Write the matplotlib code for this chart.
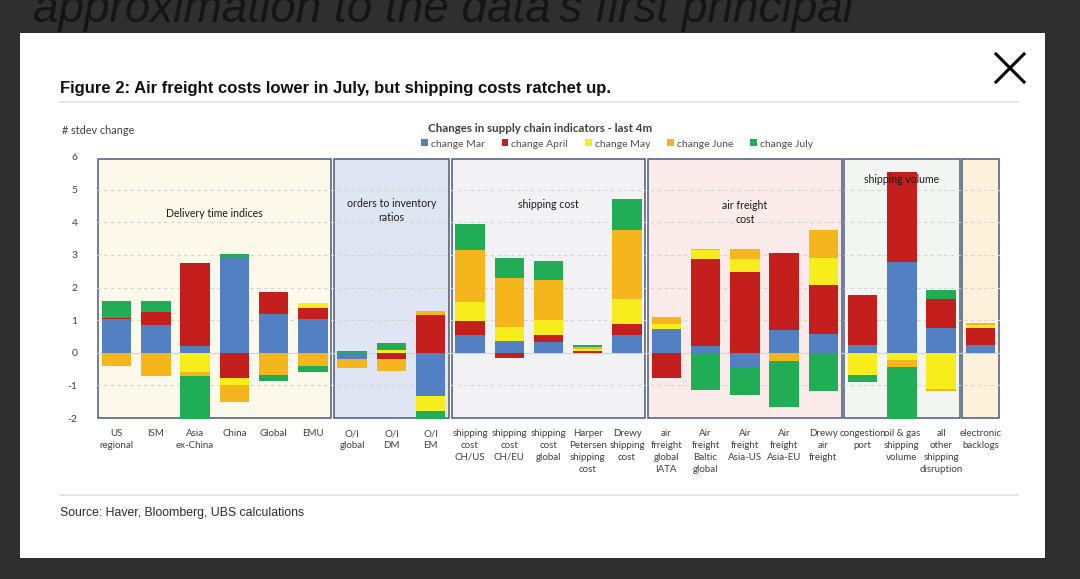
import numpy as np
import matplotlib
matplotlib.use("Agg")
import matplotlib.pyplot as plt
import matplotlib.patches as mpatches
from matplotlib.lines import Line2D

# ── data (stdev change) ─────────────────────────────────────────────────
categories = ["US\nregional", "ISM", "Asia\nex-China", "China", "Global", "EMU",
              "O/I\nglobal", "O/I\nDM", "O/I\nEM",
              "shipping\ncost\nCH/US", "shipping\ncost\nCH/EU", "shipping\ncost\nglobal",
              "Harper\nPetersen\nshipping\ncost", "Drewy\nshipping\ncost",
              "air\nfrreight\nglobal\nIATA", "Air\nfreight\nBaltic\nglobal",
              "Air\nfreight\nAsia-US", "Air\nfreight\nAsia-EU", "Drewy\nair\nfreight",
              "congestion\nport", "oil & gas\nshipping\nvolume",
              "all\nother\nshipping\ndisruption", "electronic\nbacklogs"]

chg_mar = [1.04, 0.86, 0.22, 2.90, 1.19, 1.04, -0.18, 0.00, -1.34, 0.54, 0.36, 0.34,
           0.00, 0.55, 0.74, 0.22, -0.46, 0.71, 0.59, 0.25, 2.77, 0.75, 0.25]
chg_apr = [0.04, 0.38, 2.52, -0.78, 0.66, 0.34, 0.00, -0.20, 1.17, 0.43, -0.16, 0.19,
           0.04, 0.33, -0.78, 2.65, 2.47, 2.36, 1.50, 1.53, 2.78, 0.90, 0.51]
chg_may = [0.00, 0.00, -0.58, -0.20, 0.00, 0.15, 0.00, 0.08, -0.46, 0.59, 0.43, 0.46,
           0.07, 0.77, 0.14, 0.28, 0.41, 0.00, 0.81, -0.69, -0.23, -1.10, 0.08]
chg_jun = [-0.41, -0.72, -0.13, -0.52, -0.69, -0.41, -0.30, -0.37, 0.12, 1.60, 1.51, 1.25,
           0.07, 2.10, 0.23, 0.04, 0.31, -0.25, 0.85, 0.00, -0.20, -0.08, 0.07]
chg_jul = [0.50, 0.36, -1.31, 0.13, -0.19, -0.19, 0.05, 0.22, -0.23, 0.78, 0.59, 0.58,
           0.05, 0.95, 0.00, -1.15, -0.83, -1.40, -1.18, -0.22, -1.59, 0.28, 0.00]

series_names = ["change Mar", "change April", "change May", "change June", "change July"]

# groups: (label, first index, last index)
groups = [("Delivery time indices", 0, 5),
          ("orders to inventory\nratios", 6, 8),
          ("shipping cost", 9, 13),
          ("air freight\ncost", 14, 18),
          ("shipping volume", 19, 21),
          ("", 22, 22)]

# ── styling ─────────────────────────────────────────────────────────────
COLORS = ['#5280c2', '#c41e1d', '#f7ec1c', '#f5b51d', '#21ad56']
GROUP_FC = ['#fcf8ea', '#dfe5f3', '#f2f2f5', '#fbeaea', '#f2f5f1', '#fdf1dc']
GROUP_LBL_Y = [4.28, 4.35, 4.55, 4.3, 5.3, 0]
BORDER = '#4a5a7a'
TXT = '#404040'
CHART_FONT = ['Lato', 'DejaVu Sans']
PAGE_FONT = ['Liberation Sans', 'DejaVu Sans']

W, H = 1080, 579
fig = plt.figure(figsize=(W / 100, H / 100), dpi=100)
fig.patch.set_facecolor('#2f2f2f')


def fx(px):
    return px / W


def fy(py):
    return 1 - py / H


# page behind the modal (its heading is cut by the top edge, as on screen)
fig.text(fx(33), fy(22), "approximation to the data's first principal",
         fontsize=33, style='italic', color='#151515',
         family=['Liberation Sans', 'DejaVu Sans'], va='baseline')

# white card
fig.patches.append(mpatches.Rectangle((fx(20), fy(558)), fx(1045) - fx(20),
                                      fy(33) - fy(558), transform=fig.transFigure,
                                      facecolor='white', edgecolor='none', zorder=-1))
for yy in (102, 495):
    fig.add_artist(Line2D([fx(60), fx(1018)], [fy(yy), fy(yy)], color='#e3e3e3',
                          lw=1.3, transform=fig.transFigure))
# close icon
fig.add_artist(Line2D([fx(996), fx(1024)], [fy(54), fy(82)], color='black', lw=2.2,
                      transform=fig.transFigure))
fig.add_artist(Line2D([fx(996), fx(1024)], [fy(82), fy(54)], color='black', lw=2.2,
                      transform=fig.transFigure))

fig.text(fx(60), fy(93), "Figure 2: Air freight costs lower in July, but shipping costs ratchet up.",
         fontsize=12, fontweight='bold', color='#111111', family=PAGE_FONT, va='baseline')
fig.text(fx(60), fy(516), "Source: Haver, Bloomberg, UBS calculations",
         fontsize=8.8, color='#2a2a2a', family=PAGE_FONT, va='baseline')

# ── chart ───────────────────────────────────────────────────────────────
ax = fig.add_axes([fx(97), fy(418), fx(1000) - fx(97), fy(157) - fy(418)])
ax.set_zorder(2)
ax.set_facecolor('none')
n = len(categories)
x = np.arange(n)
ax.set_xlim(-0.5, n - 0.5)
ax.set_ylim(-2, 6)

# group panels
for (lbl, i0, i1), fc, ly in zip(groups, GROUP_FC, GROUP_LBL_Y):
    pad = 0.03
    ax.add_patch(mpatches.Rectangle((i0 - 0.5 + pad, -2), i1 - i0 + 1 - 2 * pad, 7.95,
                                    facecolor=fc, edgecolor=BORDER, lw=1.1, zorder=0.5,
                                    clip_on=False))
    if lbl:
        ax.text((i0 + i1) / 2, ly, lbl, ha='center', va='center', fontsize=7.6,
                color='#1a1a1a', family=CHART_FONT, zorder=5, linespacing=1.3)

# gridlines
for v in range(-1, 6):
    ax.axhline(v, color='#d4d4d4', lw=0.8, ls=(0, (3, 3)) if v != 0 else '-', zorder=1)

# stacked bars (positives stack up, negatives stack down, in series order)
pos_base = np.zeros(n)
neg_base = np.zeros(n)
handles = []
for name, vals, col in zip(series_names, [chg_mar, chg_apr, chg_may, chg_jun, chg_jul], COLORS):
    v = np.array(vals)
    bottom = np.where(v >= 0, pos_base, neg_base)
    ax.bar(x, v, 0.75, bottom=bottom, color=col, edgecolor='none', zorder=3, clip_on=False)
    pos_base += np.clip(v, 0, None)
    neg_base += np.clip(v, None, 0)
    handles.append(mpatches.Patch(facecolor=col, label=name))

ax.set_xticks(x)
ax.set_xticklabels(categories, fontsize=7.0, color=TXT, family=CHART_FONT, linespacing=1.4,
                   va='top')
ax.set_yticks(range(-2, 7))
ax.set_yticklabels([str(v) for v in range(-2, 7)], fontsize=7.5, color=TXT, family=CHART_FONT)
ax.tick_params(length=0)
ax.tick_params(axis='x', pad=8)
ax.tick_params(axis='y', pad=14)
for s in ax.spines.values():
    s.set_visible(False)

fig.text(fx(62), fy(134), "# stdev change", fontsize=7.8, color=TXT, family=CHART_FONT,
         va='baseline')
fig.text(fx(540), fy(132), "Changes in supply chain indicators - last 4m", fontsize=8.3,
         fontweight='bold', color='#404040', family=CHART_FONT, ha='center', va='baseline')
fig.legend(handles=handles, loc='center', bbox_to_anchor=(fx(617), fy(144)), ncol=5,
           frameon=False, handlelength=0.65, handleheight=0.65,
           handletextpad=0.3, columnspacing=1.6, borderpad=0,
           prop={'family': CHART_FONT, 'size': 7.5})
for t in fig.legends[0].get_texts():
    t.set_color('#505050')

fig.savefig('out.png', dpi=100, facecolor=fig.get_facecolor())
